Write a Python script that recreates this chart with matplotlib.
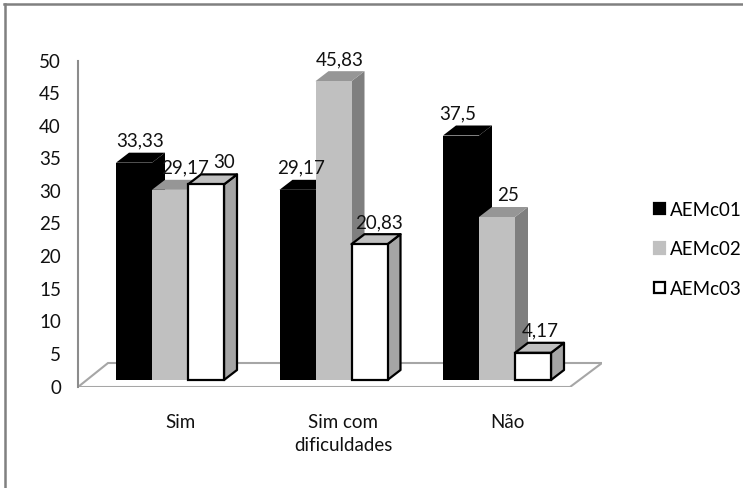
import numpy as np
import matplotlib.pyplot as plt
from matplotlib.patches import Polygon, Rectangle, Patch
from matplotlib.lines import Line2D

plt.rcParams['font.family'] = ['Lato', 'DejaVu Sans']

categories = ["Sim", "Sim com\ndificuldades", "Não"]
series = ["AEMc01", "AEMc02", "AEMc03"]
aemc01 = [33.33, 29.17, 37.5]
aemc02 = [29.17, 45.83, 25]
aemc03 = [30, 20.83, 4.17]
yticks = [0, 5, 10, 15, 20, 25, 30, 35, 40, 45, 50]

values = [aemc01, aemc02, aemc03]

# front, top, side colours and edge for each series
faces = [
    ("#000000", "#000000", "#000000", "none"),
    ("#c0c0c0", "#969696", "#7f7f7f", "none"),
    ("#ffffff", "#c0c0c0", "#a5a5a5", "#000000"),
]
# sideways nudge of value labels (pixels), per series and category
nudge = [[0, -3, -10], [9, 0, 5], [12, 3, 1]]

W, H = 743, 489
fig = plt.figure(figsize=(W / 100, H / 100), dpi=100)

# plot box in pixels
left, right, top, bottom = 78, 602, 40, 388
base = 381          # pixel row where the bars stand
PXX = 163.5         # pixels per category step
PXY = 6.52          # pixels per unit
x0 = 170            # pixel centre of first group
fs = 13.5

ax = fig.add_axes([left / W, 1 - bottom / H, (right - left) / W, (bottom - top) / H])
ax.set_xlim((left - x0) / PXX, (right - x0) / PXX)
ax.set_ylim(-(bottom - base) / PXY, (base - top) / PXY)
ax.axis('off')

bw = 36 / PXX
dx, dy = 13 / PXX, 10 / PXY

# floor
fy0 = -(bottom - base) / PXY
fy1 = fy0 + 24 / PXY
xl, xr = (left - x0) / PXX, (right - x0) / PXX
ax.add_patch(Polygon([(xl, fy0), (xl + 30 / PXX, fy1), (xr, fy1), (xr - 32 / PXX, fy0)],
                     closed=True, facecolor="white", edgecolor="#a6a6a6", lw=1.5, zorder=1))
# value axis line
ax.plot([xl, xl], [fy0, 50 - 7 / PXY], color="#8c8c8c", lw=1.5, zorder=1, clip_on=False)

for t in yticks:
    ax.text(xl - 17 / PXX, t - 7 / PXY, str(t), ha="right", va="center", fontsize=fs,
            color="#111111", clip_on=False)

x = np.arange(len(categories))
for i in range(len(categories)):
    for s in range(len(series)):
        v = values[s][i]
        xs = x[i] - 1.5 * bw + s * bw
        fc, tc, sc, ec = faces[s]
        lw = 1.6 if ec != "none" else 0
        z = 3 + i * 3 + s
        ax.add_patch(Polygon([(xs + bw, 0), (xs + bw + dx, dy), (xs + bw + dx, v + dy), (xs + bw, v)],
                             closed=True, facecolor=sc, edgecolor=ec, lw=lw, zorder=z, joinstyle="round"))
        ax.add_patch(Polygon([(xs, v), (xs + dx, v + dy), (xs + bw + dx, v + dy), (xs + bw, v)],
                             closed=True, facecolor=tc, edgecolor=ec, lw=lw, zorder=z, joinstyle="round"))
        ax.add_patch(Rectangle((xs, 0), bw, v, facecolor=fc, edgecolor=ec, lw=lw, zorder=z + 0.5))
        lab = ("%g" % v).replace(".", ",")
        ax.text(xs + bw / 2 + dx / 2 + nudge[s][i] / PXX, v + dy + 4 / PXY, lab,
                ha="center", va="bottom", fontsize=fs, color="#111111", zorder=20)

for i, c in enumerate(categories):
    ax.text(x[i] + 10 / PXX, -(414 - base) / PXY, c, ha="center", va="top", fontsize=fs,
            color="#111111", linespacing=1.4, clip_on=False)

handles = [Patch(facecolor=faces[s][0], edgecolor=faces[s][3] if faces[s][3] != "none" else faces[s][0],
                 lw=1.6) for s in range(3)]
fig.legend(handles, series, loc="center left", bbox_to_anchor=(645 / W, 1 - 250 / H),
           frameon=False, fontsize=fs, handlelength=0.55, handleheight=0.55,
           handletextpad=0.3, labelspacing=1.2, borderpad=0)

# chart area border (top and left edges)
fig.add_artist(Line2D([4 / W, 742 / W], [1 - 5 / H, 1 - 5 / H], color="#808080", lw=1.8))
fig.add_artist(Line2D([5 / W, 5 / W], [1 - 5 / H, 0], color="#808080", lw=1.8))

fig.savefig("out.png", dpi=100)
